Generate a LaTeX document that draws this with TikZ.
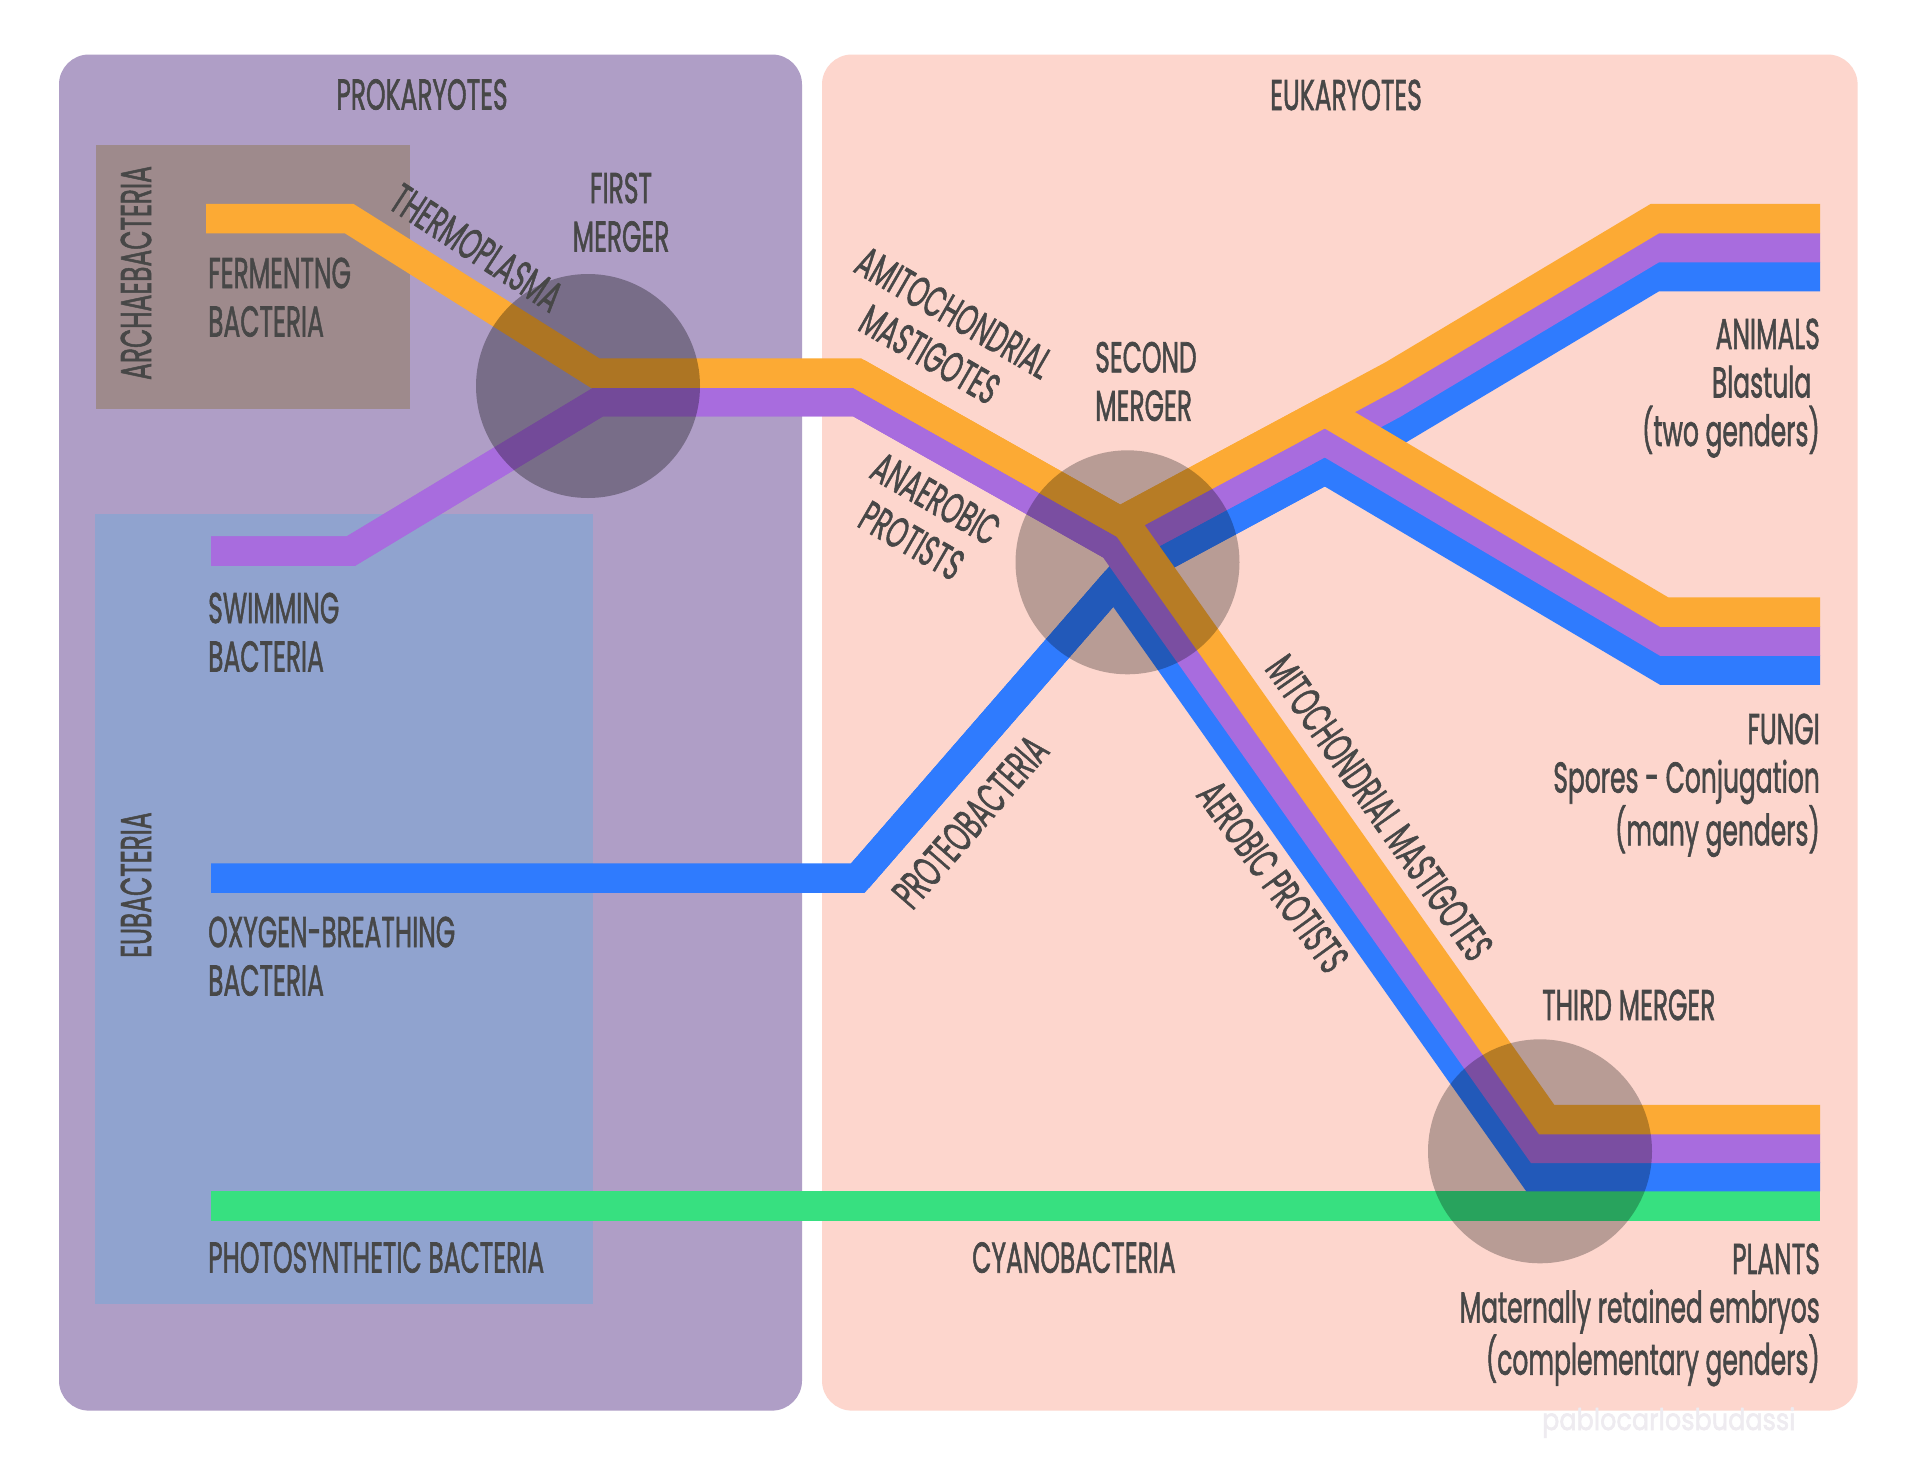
\documentclass[tikz,border=0pt]{standalone}
\usepackage{graphicx}
\usepackage{fontspec}
\setmainfont{Poppins}[FakeBold=1.8]
\newfontfamily\wmfont{Poppins}[FakeBold=2]
\newcommand\cnd[1]{\scalebox{0.58}[1]{#1}}
\newcommand\wmd[1]{\scalebox{0.85}[1]{#1}}
\definecolor{cprok}{HTML}{AF9EC6}
\definecolor{ceuk}{HTML}{FDD6CD}
\definecolor{carch}{HTML}{9E8A8C}
\definecolor{ceub}{HTML}{90A3CF}
\definecolor{corange}{HTML}{FCAA34}
\definecolor{cpurple}{HTML}{A86CDE}
\definecolor{cblue}{HTML}{2F7BFE}
\definecolor{cgreen}{HTML}{37E080}
\definecolor{ctext}{HTML}{474747}
\definecolor{cwm}{HTML}{EEEBF0}
\begin{document}
\begin{tikzpicture}[x=1pt,y=-1pt,
  band/.style={line width=29.5pt, line join=miter, line cap=butt, miter limit=10},
  oband/.style={band, draw=corange},
  pband/.style={band, draw=cpurple},
  bband/.style={band, draw=cblue},
  gband/.style={band, draw=cgreen},
  merge/.style={fill=black, fill opacity=0.27},
  lbl/.style={text=ctext, font=\fontsize{43}{48.5}\selectfont, inner sep=0pt},
  wm/.style={text=cwm, font=\wmfont\fontsize{30}{34}\selectfont, inner sep=0pt}]
\useasboundingbox (0,0) rectangle (1920,1467);
\fill[white] (0,0) rectangle (1920,1467);
% domains
\fill[cprok, rounded corners=30pt] (59,54.5) rectangle (802,1410.6);
\fill[ceuk, rounded corners=30pt] (822,54.5) rectangle (1857.6,1410.6);
\fill[carch] (96,145) rectangle (409.6,408.7);
\fill[ceub] (95,513.5) rectangle (592.6,1304);
% route points
\coordinate (o1) at (206,218.5);
\coordinate (o2) at (349,218.5);
\coordinate (o3) at (595,373);
\coordinate (o4) at (857,373);
\coordinate (o5) at (1120,521.5);
\coordinate (o6) at (1393,375);
\coordinate (o7) at (1655,218.5);
\coordinate (o8) at (1820,218.5);
\coordinate (of1) at (1325,411.5);
\coordinate (of2) at (1664,612);
\coordinate (of3) at (1820,612);
\coordinate (op1) at (1126.6,525.1);
\coordinate (op2) at (1546.6,1119.5);
\coordinate (op3) at (1820,1119.5);
\coordinate (p1) at (211,551);
\coordinate (p2) at (351,551);
\coordinate (p3) at (599,401.5);
\coordinate (p4) at (857,401.5);
\coordinate (p5) at (1120.5,550.3);
\coordinate (p6) at (1393,404);
\coordinate (p7) at (1655,247.5);
\coordinate (p8) at (1820,247.5);
\coordinate (pf1) at (1325,440.5);
\coordinate (pf2) at (1664,641);
\coordinate (pf3) at (1820,641);
\coordinate (pp1) at (1112.8,545.6);
\coordinate (pp2) at (1538.6,1148.3);
\coordinate (pp3) at (1820,1148.3);
\coordinate (b1) at (211,878);
\coordinate (b2) at (858,878);
\coordinate (b3) at (1114.4,583);
\coordinate (b4) at (1393,433);
\coordinate (b5) at (1655,276.5);
\coordinate (b6) at (1820,276.5);
\coordinate (bf1) at (1325,469.5);
\coordinate (bf2) at (1664,670);
\coordinate (bf3) at (1820,670);
\coordinate (bp1) at (1534,1176.7);
\coordinate (bp2) at (1820,1176.7);
\coordinate (g1) at (211,1206);
\coordinate (g2) at (1820,1206);
% lines
\draw[gband] (g1) -- (g2);
\draw[bband] (b1) -- (b2) -- (b3) -- (bp1) -- (bp2);
\draw[bband] (b2) -- (b3) -- (bf1) -- (bf2) -- (bf3);
\draw[bband] (b2) -- (b3) -- (b4) -- (b5) -- (b6);
\draw[pband] (p1) -- (p2) -- (p3) -- (p4) -- (pp1) -- (pp2) -- (pp3);
\draw[pband] (p4) -- (p5) -- (pf1) -- (pf2) -- (pf3);
\draw[pband] (p1) -- (p2) -- (p3) -- (p4) -- (p5) -- (p6) -- (p7) -- (p8);
\draw[oband] (o4) -- (op1) -- (op2) -- (op3);
\draw[oband] (o4) -- (o5) -- (of1) -- (of2) -- (of3);
\draw[oband] (o1) -- (o2) -- (o3) -- (o4) -- (o5) -- (o6) -- (o7) -- (o8);
% mergers
\fill[merge, fill opacity=0.31] (588,386) circle[radius=112pt];
\fill[merge] (1127.5,562.3) circle[radius=112pt];
\fill[merge] (1540,1151.3) circle[radius=112pt];
% labels
\node[lbl] (prok) at (422,94.5) {\cnd{PROKARYOTES}};
\node[lbl] (euk) at (1346,95) {\cnd{EUKARYOTES}};
\node[lbl, rotate=90] (archtxt) at (136,273) {\cnd{ARCHAEBACTERIA}};
\node[lbl, rotate=90] (eubtxt) at (136,885) {\cnd{EUBACTERIA}};
\node[lbl, anchor=north west, align=left] (ferm) at (208,257.5) {\cnd{FERMENTNG}\\\cnd{BACTERIA}};
\node[lbl, anchor=north west, align=left] (swim) at (208,592.5) {\cnd{SWIMMING}\\\cnd{BACTERIA}};
\node[lbl, anchor=north west, align=left] (oxy) at (208,916.5) {\cnd{OXYGEN-BREATHING}\\\cnd{BACTERIA}};
\node[lbl, anchor=west] (photo) at (208,1257.5) {\cnd{PHOTOSYNTHETIC BACTERIA}};
\node[lbl, anchor=west] (cyano) at (972,1257.6) {\cnd{CYANOBACTERIA}};
\node[lbl, align=center, anchor=north] (m1) at (621,172.5) {\cnd{FIRST}\\\cnd{MERGER}};
\node[lbl, align=left, anchor=north west] (m2) at (1095,341.7) {\cnd{SECOND}\\\cnd{MERGER}};
\node[lbl] (m3) at (1628.8,1005) {\cnd{THIRD MERGER}};
\node[lbl, rotate=-33] (thermo) at (476.7,247.8) {\cnd{THERMOPLASMA}};
\node[lbl, rotate=-30, align=center] (amito) at (942,333.4) {\cnd{AMITOCHONDRIAL}\\\cnd{MASTIGOTES}};
\node[lbl, rotate=-30, align=center] (anaer) at (923.8,519.6) {\cnd{ANAEROBIC}\\\cnd{PROTISTS}};
\node[lbl, rotate=49] (proteo) at (970.3,821.7) {\cnd{PROTEOBACTERIA}};
\node[lbl, rotate=-54] (aerob) at (1273,876.7) {\cnd{AEROBIC PROTISTS}};
\node[lbl, rotate=-55] (mito) at (1379.5,807.7) {\cnd{MITOCHONDRIAL MASTIGOTES}};
\node[lbl, anchor=north east, align=right] (animals) at (1820,318.4) {\cnd{ANIMALS}\\\cnd{Blastula}\rule{8.6pt}{0pt}\\\cnd{(two genders)}};
\node[lbl, anchor=north east, align=right] (fungi) at (1820,713.5) {\cnd{FUNGI}\\\cnd{Spores - Conjugation}\\\cnd{(many genders)}};
\node[lbl, anchor=north east, align=right] (plants) at (1820,1243.3) {\cnd{PLANTS}\\\cnd{Maternally retained embryos}\\\cnd{(complementary genders)}};
\node[wm, anchor=base] (wmark) at (1668.8,1430) {\wmd{pablocarlosbudassi}};
\end{tikzpicture}
\end{document}
